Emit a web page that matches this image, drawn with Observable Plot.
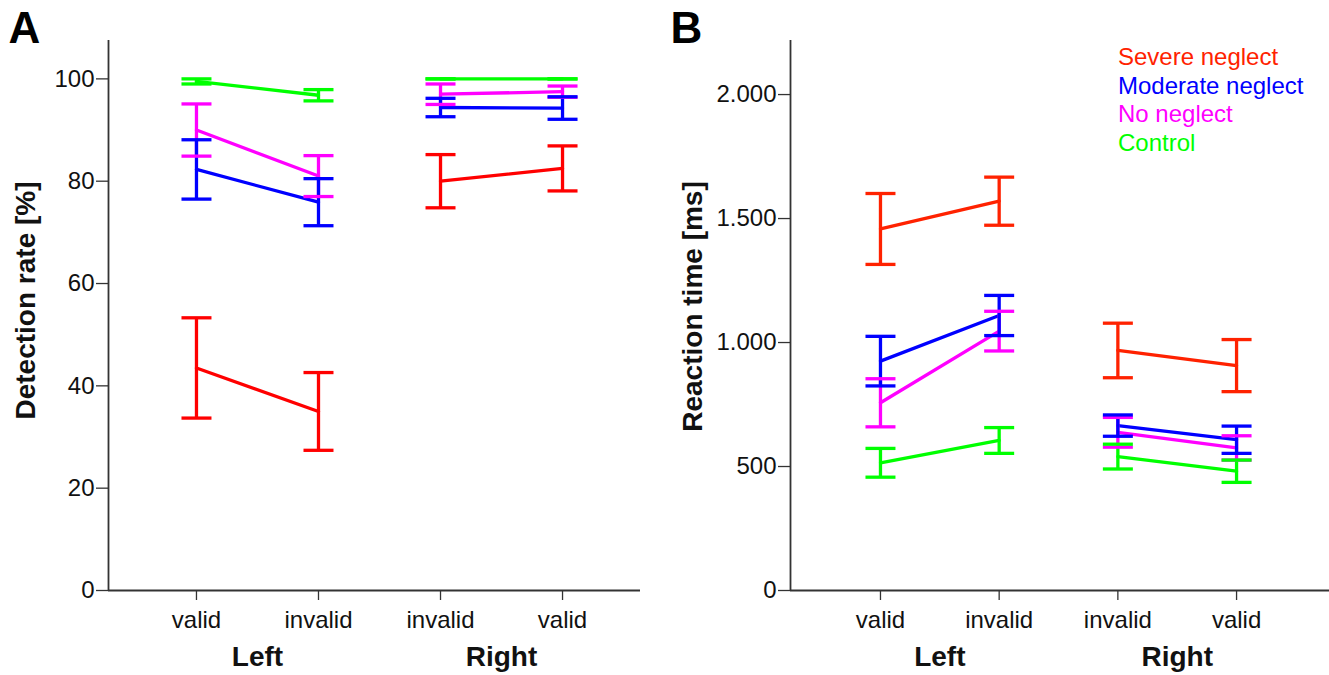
<!DOCTYPE html>
<html>
<head>
<meta charset="utf-8">
<script src="https://cdn.jsdelivr.net/npm/d3@7"></script>
<script src="https://cdn.jsdelivr.net/npm/@observablehq/plot@0.6"></script>
<style>
  html, body { margin: 0; padding: 0; background: #fff; }
  #wrap { position: relative; width: 1329px; height: 675px; overflow: hidden; font-family: "Liberation Sans", Arial, sans-serif; }
  #panelA, #panelB { position: absolute; top: 0; }
  #panelA { left: 0; }
  #panelB { left: 665px; }
  #legend { position: absolute; left: 1118px; top: 43px; font-size: 24px; line-height: 28.5px; }
</style>
</head>
<body>
<div id="wrap">
  <div id="panelA"></div>
  <div id="panelB"></div>
  <div id="legend"></div>
</div>
<script>
// ---- data ----
const groups = ["Severe neglect", "Moderate neglect", "No neglect", "Control"];
const drawOrder = ["Severe neglect", "Control", "No neglect", "Moderate neglect"];
const colorsA = ["#ff0000", "#0000ff", "#ff00ff", "#00ff00"];
const colorsB = ["#ff2200", "#0000ff", "#ff00ff", "#00ff00"];
const cueSides = ["Left", "Left", "Right", "Right"];
const cueTypes = ["valid", "invalid", "invalid", "valid"];
const sideNames = ["Left", "Right"];

// Panel A: detection rate [%] (mean, error half-length)
const detSevere = [43.5, 35.0, 80.0, 82.5];
const detSevereErr = [9.8, 7.6, 5.2, 4.4];
const detModerate = [82.3, 75.9, 94.4, 94.3];
const detModerateErr = [5.8, 4.6, 1.8, 2.2];
const detNo = [90.0, 81.0, 97.0, 97.5];
const detNoErr = [5.1, 4.0, 2.0, 1.1];
const detControl = [99.5, 96.8, 100, 100];
const detControlErr = [0.5, 1.1, 0, 0];
const detTicks = [0, 20, 40, 60, 80, 100];

// Panel B: reaction time [ms]
const rtSevere = [1458, 1570, 968, 907];
const rtSevereErr = [143, 97, 110, 105];
const rtModerate = [925, 1109, 665, 608];
const rtModerateErr = [100, 81, 43, 55];
const rtNo = [757, 1046, 638, 575];
const rtNoErr = [97, 80, 60, 49];
const rtControl = [515, 605, 540, 481];
const rtControlErr = [58, 52, 50, 45];
const rtTicks = [0, 500, 1000, 1500, 2000];

// ---- build tables ----
function buildRows(seriesMap) {
  const rows = [];
  for (const g of drawOrder) {
    const [means, errs] = seriesMap[g];
    means.forEach((m, i) => {
      rows.push({group: g, side: cueSides[i], pos: i + 1, mean: m, lo: m - errs[i], hi: m + errs[i]});
    });
  }
  return rows;
}
const rowsA = buildRows({
  "Severe neglect": [detSevere, detSevereErr],
  "Moderate neglect": [detModerate, detModerateErr],
  "No neglect": [detNo, detNoErr],
  "Control": [detControl, detControlErr]
});
const rowsB = buildRows({
  "Severe neglect": [rtSevere, rtSevereErr],
  "Moderate neglect": [rtModerate, rtModerateErr],
  "No neglect": [rtNo, rtNoErr],
  "Control": [rtControl, rtControlErr]
});

const sideCenter = s => d3.mean(cueSides.map((c, i) => c === s ? i + 1 : null).filter(v => v != null));

const capSymbol = {
  draw(ctx, size) {
    const w = Math.sqrt(size / Math.PI);
    ctx.moveTo(-w, 0);
    ctx.lineTo(w, 0);
  }
};

const font = "'Liberation Sans', Arial, sans-serif";
const axisColor = "#333";

function panel({rows, colors, width, marginLeft, marginRight, xDomain, yDomain, yTicks, yFormat, yLabel, yLabelDx, yLabelDy, letter, letterDx}) {
  return Plot.plot({
    width, height: 675,
    marginLeft, marginRight, marginTop: 40, marginBottom: 85,
    x: {domain: xDomain},
    y: {domain: yDomain},
    color: {domain: groups, range: colors},
    style: {fontFamily: font, fontSize: "24px", color: "#111", background: "transparent", overflow: "visible"},
    marks: [
      Plot.axisX({ticks: [1, 2, 3, 4], tickFormat: d => cueTypes[d - 1], tickSize: 10, tickPadding: 10, label: null, stroke: axisColor, strokeWidth: 1.3, fontSize: 24}),
      Plot.axisY({ticks: yTicks, tickFormat: yFormat, tickSize: 12, tickPadding: 2, label: null, stroke: axisColor, strokeWidth: 1.3, fontSize: 24}),
      Plot.ruleY([yDomain[0]], {stroke: axisColor, strokeWidth: 1.8}),
      Plot.ruleX([xDomain[0]], {stroke: axisColor, strokeWidth: 1.8}),
      Plot.line(rows, {x: "pos", y: "mean", z: d => d.group + d.side, stroke: "group", strokeWidth: 3.3}),
      Plot.ruleX(rows, {x: "pos", y1: "lo", y2: "hi", stroke: "group", strokeWidth: 3.3}),
      Plot.dot(rows, {x: "pos", y: "lo", symbol: capSymbol, r: 15, stroke: "group", strokeWidth: 3.3, fill: "none"}),
      Plot.dot(rows, {x: "pos", y: "hi", symbol: capSymbol, r: 15, stroke: "group", strokeWidth: 3.3, fill: "none"}),
      Plot.text(sideNames, {x: d => sideCenter(d), frameAnchor: "bottom", dy: 67, lineAnchor: "middle", fontWeight: "bold", fontSize: 28, fill: "#111"}),
      Plot.text([yLabel], {frameAnchor: "left", textAnchor: "middle", dx: yLabelDx, dy: yLabelDy, rotate: -90, lineAnchor: "middle", fontWeight: "bold", fontSize: 28, fill: "#111"}),
      Plot.text([letter], {frameAnchor: "top-left", dx: letterDx, dy: 2, lineAnchor: "bottom", textAnchor: "start", fontWeight: "bold", fontSize: 44, fill: "#000"})
    ]
  });
}

const fmtDots = d => d3.format(",")(d).replace(/,/g, ".");

document.getElementById("panelA").appendChild(panel({
  rows: rowsA, colors: colorsA, width: 665, marginLeft: 108, marginRight: 25,
  xDomain: [0.279, 4.639], yDomain: [0, 107.5], yTicks: detTicks, yFormat: d => String(d),
  yLabel: "Detection rate [%]", yLabelDx: -82, yLabelDy: -15, letter: "A", letterDx: -100
}));
document.getElementById("panelB").appendChild(panel({
  rows: rowsB, colors: colorsB, width: 664, marginLeft: 125, marginRight: 0,
  xDomain: [0.242, 4.783], yDomain: [0, 2218], yTicks: rtTicks, yFormat: fmtDots,
  yLabel: "Reaction time [ms]", yLabelDx: -97, yLabelDy: -9, letter: "B", letterDx: -120
}));

const legend = document.getElementById("legend");
groups.forEach((g, i) => {
  const div = document.createElement("div");
  div.textContent = g;
  div.style.color = colorsB[i];
  legend.appendChild(div);
});
</script>
</body>
</html>
